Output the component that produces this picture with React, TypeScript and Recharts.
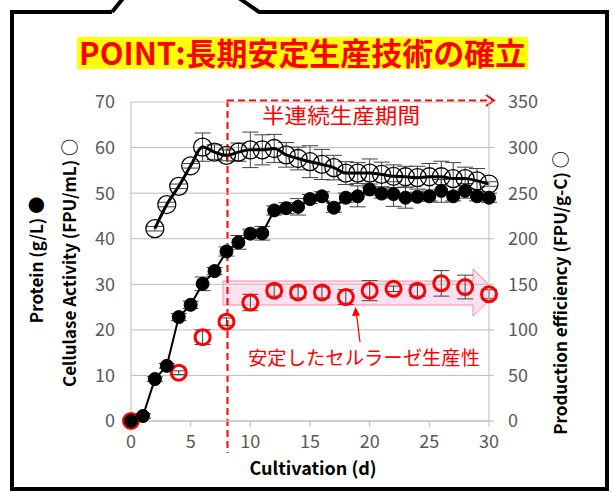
import { CartesianGrid, ComposedChart, ErrorBar, Line, XAxis, YAxis } from "recharts";

// cultivation day 0..30
const days = Array.from({ length: 31 }, (_, i) => i);

// Protein (g/L) ● left axis
const protein = [
  0, 1.1, 9.2, 12.1, 22.8, 25.5, 30.1, 32.9, 37.2, 39.2, 41.1, 41.2, 46.2, 46.7, 47.0, 48.7,
  49.3, 46.8, 49.0, 49.3, 50.8, 49.9, 49.8, 49.0, 49.2, 49.3, 50.5, 49.3, 50.5, 49.3, 49.0,
];
const proteinErr = [
  0, 0.5, 0.5, 0.5, 0.8, 0.8, 1.5, 0.8, 1.0, 1.5, 1.0, 1.5, 1.0, 1.2, 1.8, 1.0,
  1.0, 1.0, 1.0, 2.3, 1.2, 1.0, 2.7, 2.3, 1.0, 1.0, 2.5, 1.0, 1.6, 1.0, 1.0,
];

// Cellulase Activity (FPU/mL) ○ left axis, from day 2
const cellulase = [
  null, null, 42.2, 47.5, 51.5, 56.0, 60.1, 59.0, 58.3, 59.0, 59.5, 59.5, 59.8, 58.4, 57.6, 56.9,
  56.3, 55.6, 54.4, 54.4, 54.4, 54.1, 53.7, 53.6, 53.4, 53.6, 53.6, 53.2, 53.2, 52.7, 52.0,
];
const cellulaseErr = [
  null, null, 0.5, 0.5, 0.5, 0.5, 3.1, 1.6, 1.2, 2.0, 3.9, 3.3, 3.1, 2.7, 2.5, 3.5,
  3.3, 2.7, 2.5, 2.3, 3.1, 2.7, 2.5, 2.3, 2.5, 2.9, 3.4, 3.5, 2.5, 2.7, 0.5,
];

// Production efficiency (FPU/g-C) ○ right axis, every 2 days
const effDays = [0, 4, 6, 8, 10, 12, 14, 16, 18, 20, 22, 24, 26, 28, 30];
const efficiency = [0, 53, 92, 109, 130, 143, 141, 141, 136, 143, 145, 143, 151, 147, 139];
const efficiencyErr = [0, 2, 8, 4, 9, 6, 6, 6, 8, 11, 3, 6, 14, 13, 5];

const xTicks = [0, 5, 10, 15, 20, 25, 30];
const leftTicks = [0, 10, 20, 30, 40, 50, 60, 70];
const rightTicks = [0, 50, 100, 150, 200, 250, 300, 350];

const data = days.map((d, i) => {
  const k = effDays.indexOf(d);
  return {
    day: d,
    protein: protein[i],
    proteinErr: proteinErr[i],
    cellulase: cellulase[i],
    cellulaseErr: cellulaseErr[i],
    efficiency: k >= 0 ? efficiency[k] : null,
    efficiencyErr: k >= 0 ? efficiencyErr[k] : null,
  };
});

const W = 613;
const H = 492;
const FONT = "'Noto Sans CJK JP', 'Noto Sans', sans-serif";
const RED = "#ff0000";
const GRID = "#bcbcbc";
const TICK = { fill: "#595959", fontSize: 18, fontFamily: FONT };

export default function App() {
  return (
    <div style={{ position: "absolute", left: 0, top: 0, width: W, height: H, background: "#fff", fontFamily: FONT }}>
      {/* 下敷き: 矢印と破線 */}
      <svg width={W} height={H} style={{ position: "absolute", left: 0, top: 0 }}>
        <path
          d="M223,281 H473 V269 L497,293 L473,316 V305 H223 Z"
          fill="#fde0f1"
          stroke="#ff8aa5"
          strokeWidth={1}
        />
        <line x1={227.5} y1={100} x2={227.5} y2={453} stroke={RED} strokeWidth={2} strokeDasharray="7 4" />
        <line x1={227} y1={100.5} x2={492} y2={100.5} stroke={RED} strokeWidth={2} strokeDasharray="7 4" />
        <polyline points="486,95 494,100.5 486,106" fill="none" stroke={RED} strokeWidth={2} />
      </svg>

      <div style={{ position: "absolute", left: 0, top: 0 }}>
        <ComposedChart width={W} height={H} data={data} margin={{ top: 102, right: 0, bottom: 41, left: 0 }}>
          <CartesianGrid yAxisId="left" vertical={false} stroke={GRID} />
          <XAxis
            dataKey="day"
            type="number"
            domain={[0, 30]}
            ticks={xTicks}
            height={30}
            stroke={GRID}
            tickSize={6}
            tickMargin={8}
            tick={TICK}
          />
          <YAxis
            yAxisId="left"
            domain={[0, 70]}
            ticks={leftTicks}
            width={131}
            stroke={GRID}
            tickLine={false}
            tickSize={6}
            tickMargin={10}
            tick={TICK}
          />
          <YAxis
            yAxisId="right"
            orientation="right"
            domain={[0, 350]}
            ticks={rightTicks}
            width={124}
            stroke={GRID}
            tickSize={5}
            tickMargin={14}
            tick={TICK}
          />
          <Line
            yAxisId="right"
            dataKey="efficiency"
            stroke="none"
            dot={{ r: 7.5, stroke: RED, strokeWidth: 3, fill: "none" }}
            activeDot={false}
            isAnimationActive={false}
          >
            <ErrorBar dataKey="efficiencyErr" width={8} stroke="#404040" strokeWidth={1} direction="y" />
          </Line>
          <Line
            yAxisId="left"
            type="monotone"
            dataKey="cellulase"
            stroke="#000"
            strokeWidth={3}
            dot={{ r: 9, stroke: "#000", strokeWidth: 1.3, fill: "none" }}
            activeDot={false}
            isAnimationActive={false}
          >
            <ErrorBar dataKey="cellulaseErr" width={8} stroke="#404040" strokeWidth={1} direction="y" />
          </Line>
          <Line
            yAxisId="left"
            dataKey="protein"
            stroke="#000"
            strokeWidth={2}
            dot={{ r: 6.5, stroke: "#000", strokeWidth: 1, fill: "#000" }}
            activeDot={false}
            isAnimationActive={false}
          >
            <ErrorBar dataKey="proteinErr" width={8} stroke="#404040" strokeWidth={1} direction="y" />
          </Line>
        </ComposedChart>
      </div>

      {/* 注記・軸タイトル・枠 */}
      <svg width={W} height={H} style={{ position: "absolute", left: 0, top: 0, pointerEvents: "none" }}>
        <rect x={77} y={37} width={451} height={32} fill="#ffff00" />
        <text
          x={79}
          y={65}
          fontSize={31}
          fontWeight={700}
          fill={RED}
          fontFamily={FONT}
          textLength={447}
          lengthAdjust="spacingAndGlyphs"
        >
          POINT:長期安定生産技術の確立
        </text>

        <text x={262} y={123} fontSize={21} fill={RED} fontFamily={FONT} textLength={158} lengthAdjust="spacingAndGlyphs">
          半連続生産期間
        </text>
        <text x={248} y={365} fontSize={19} fill={RED} fontFamily={FONT} textLength={232} lengthAdjust="spacingAndGlyphs">
          安定したセルラーゼ生産性
        </text>
        <line x1={360} y1={342} x2={356.5} y2={314} stroke={RED} strokeWidth={1.2} />
        <polygon points="355.5,307 352,316 360,315.5" fill={RED} />

        <text
          transform="translate(43,260) rotate(-90)"
          textAnchor="middle"
          fontSize={17}
          fontWeight={700}
          fill="#000"
          fontFamily={FONT}
        >
          Protein (g/L) ●
        </text>
        <text
          transform="translate(76,263) rotate(-90)"
          textAnchor="middle"
          fontSize={17}
          fontWeight={700}
          fill="#000"
          fontFamily={FONT}
        >
          Cellulase Activity (FPU/mL) ○
        </text>
        <text
          transform="translate(567,293) rotate(-90)"
          textAnchor="middle"
          fontSize={17}
          fontWeight={700}
          fill="#000"
          fontFamily={FONT}
        >
          Production efficiency (FPU/g-C) ○
        </text>
        <text x={313} y={475} textAnchor="middle" fontSize={18} fontWeight={700} fill="#000" fontFamily={FONT}>
          Cultivation (d)
        </text>

        <path d="M112,12 H12 V489 H607 V12 H259 L236,-4" fill="none" stroke="#000" strokeWidth={4} />
        <path d="M112,12 L125,-4" fill="none" stroke="#000" strokeWidth={4} />
      </svg>
    </div>
  );
}
